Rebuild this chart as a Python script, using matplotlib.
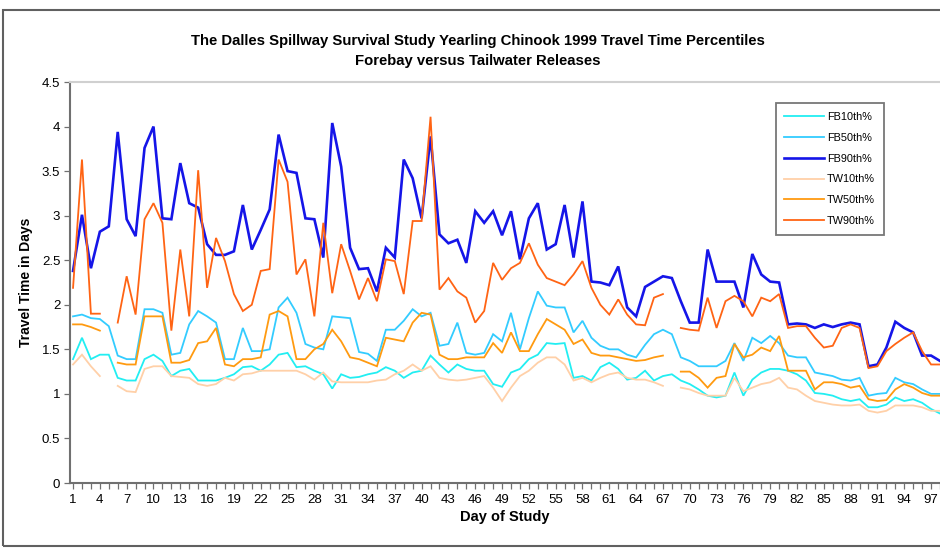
import numpy as np
import matplotlib
matplotlib.use("Agg")
import matplotlib.pyplot as plt
from matplotlib.lines import Line2D
from matplotlib.patches import Rectangle

nan = np.nan
days = np.arange(1, 99)

fb10 = [1.39, 1.63, 1.39, 1.44, 1.44, 1.18, 1.15, 1.15, 1.39, 1.44, 1.37, 1.2, 1.26, 1.28, 1.15, 1.15, 1.15, 1.18, 1.22, 1.3,
        1.31, 1.26, 1.33, 1.44, 1.46, 1.3, 1.31, 1.26, 1.22, 1.06, 1.22, 1.18, 1.19, 1.22, 1.24, 1.3, 1.26, 1.18, 1.24, 1.26,
        1.43, 1.33, 1.24, 1.33, 1.28, 1.26, 1.26, 1.11, 1.08, 1.24, 1.28, 1.39, 1.44, 1.57, 1.56, 1.57, 1.18, 1.2, 1.15, 1.3,
        1.35, 1.28, 1.16, 1.18, 1.26, 1.15, 1.2, 1.22, 1.15, 1.11, 1.05, 0.98, 0.96, 0.98, 1.24, 0.98, 1.16, 1.24, 1.28, 1.28,
        1.26, 1.22, 1.15, 1.01, 1.0, 0.98, 0.94, 0.92, 0.94, 0.85, 0.85, 0.88, 0.96, 0.92, 0.94, 0.9, 0.83, 0.78]
fb50 = [1.87, 1.89, 1.85, 1.84, 1.76, 1.43, 1.39, 1.39, 1.95, 1.95, 1.91, 1.44, 1.46, 1.78, 1.93, 1.87, 1.8, 1.39, 1.39, 1.74,
        1.48, 1.48, 1.5, 1.97, 2.08, 1.91, 1.56, 1.52, 1.5, 1.87, 1.86, 1.85, 1.47, 1.45, 1.37, 1.72, 1.72, 1.82, 1.95, 1.87,
        1.91, 1.54, 1.56, 1.8, 1.46, 1.44, 1.46, 1.67, 1.59, 1.91, 1.5, 1.85, 2.15, 1.99, 1.97, 1.97, 1.69, 1.82, 1.63, 1.54,
        1.5, 1.5, 1.44, 1.41, 1.55, 1.67, 1.72, 1.67, 1.41, 1.37, 1.31, 1.31, 1.31, 1.37, 1.57, 1.37, 1.63, 1.57, 1.65, 1.57,
        1.43, 1.41, 1.41, 1.24, 1.22, 1.2, 1.16, 1.15, 1.18, 0.98, 1.0, 1.01, 1.18, 1.13, 1.11, 1.05, 1.0, 1.0]
fb90 = [2.38, 3.01, 2.41, 2.82, 2.88, 3.94, 2.96, 2.77, 3.76, 4.0, 2.97, 2.96, 3.59, 3.14, 3.09, 2.68, 2.56, 2.56, 2.6, 3.12,
        2.62, 2.84, 3.07, 3.91, 3.5, 3.48, 2.97, 2.96, 2.53, 4.04, 3.55, 2.64, 2.4, 2.41, 2.15, 2.64, 2.53, 3.63, 3.42, 2.97,
        3.89, 2.79, 2.69, 2.73, 2.47, 3.05, 2.92, 3.05, 2.78, 3.05, 2.51, 2.97, 3.14, 2.62, 2.68, 3.12, 2.53, 3.16, 2.26, 2.25,
        2.22, 2.43, 1.97, 1.87, 2.2, 2.26, 2.32, 2.3, 2.04, 1.8, 1.8, 2.62, 2.26, 2.26, 2.26, 1.97, 2.57, 2.34, 2.26, 2.25,
        1.78, 1.79, 1.78, 1.74, 1.78, 1.75, 1.78, 1.8, 1.78, 1.31, 1.33, 1.52, 1.81, 1.74, 1.69, 1.43, 1.43, 1.37]
tw10 = [1.33, 1.44, 1.31, 1.2, nan, 1.09, 1.03, 1.02, 1.28, 1.31, 1.31, 1.2, 1.19, 1.18, 1.11, 1.09, 1.11, 1.18, 1.15, 1.22,
        1.23, 1.26, 1.26, 1.26, 1.26, 1.26, 1.22, 1.16, 1.24, 1.14, 1.13, 1.13, 1.13, 1.13, 1.15, 1.16, 1.22, 1.26, 1.33, 1.26,
        1.31, 1.18, 1.16, 1.15, 1.16, 1.18, 1.2, 1.07, 0.92, 1.07, 1.2, 1.26, 1.35, 1.41, 1.41, 1.33, 1.15, 1.18, 1.13, 1.18,
        1.22, 1.24, 1.18, 1.16, 1.16, 1.13, 1.09, nan, 1.07, 1.05, 1.01, 0.98, 0.98, 0.98, 1.18, 1.03, 1.07, 1.11, 1.13, 1.18,
        1.07, 1.05, 0.98, 0.92, 0.9, 0.88, 0.87, 0.87, 0.88, 0.81, 0.79, 0.81, 0.87, 0.87, 0.87, 0.85, 0.81, 0.81]
tw50 = [1.78, 1.78, 1.75, 1.71, nan, 1.35, 1.33, 1.33, 1.87, 1.87, 1.87, 1.35, 1.35, 1.38, 1.57, 1.59, 1.74, 1.33, 1.31, 1.39,
        1.39, 1.41, 1.89, 1.93, 1.87, 1.39, 1.39, 1.5, 1.56, 1.72, 1.59, 1.41, 1.39, 1.35, 1.31, 1.63, 1.61, 1.59, 1.8, 1.91,
        1.89, 1.44, 1.39, 1.39, 1.41, 1.41, 1.41, 1.57, 1.46, 1.69, 1.48, 1.48, 1.67, 1.84, 1.78, 1.72, 1.56, 1.61, 1.46, 1.43,
        1.43, 1.41, 1.39, 1.37, 1.38, 1.41, 1.43, nan, 1.25, 1.25, 1.18, 1.07, 1.18, 1.2, 1.56, 1.41, 1.44, 1.52, 1.48, 1.65,
        1.26, 1.26, 1.26, 1.05, 1.13, 1.13, 1.11, 1.07, 1.09, 0.94, 0.92, 0.93, 1.05, 1.11, 1.07, 1.01, 0.98, 0.98]
tw90 = [2.19, 3.63, 1.9, 1.9, nan, 1.8, 2.32, 1.89, 2.96, 3.14, 2.92, 1.71, 2.62, 1.87, 3.51, 2.19, 2.75, 2.49, 2.12, 1.93,
        2.0, 2.38, 2.4, 3.63, 3.38, 2.34, 2.51, 1.87, 2.92, 2.13, 2.68, 2.38, 2.06, 2.3, 2.04, 2.51, 2.49, 2.12, 2.94, 2.94,
        4.11, 2.17, 2.3, 2.15, 2.08, 1.8, 1.93, 2.47, 2.28, 2.41, 2.47, 2.69, 2.45, 2.3, 2.26, 2.22, 2.34, 2.49, 2.19, 2.0,
        1.89, 2.06, 1.89, 1.78, 1.77, 2.08, 2.12, nan, 1.74, 1.72, 1.71, 2.08, 1.74, 2.04, 2.1, 2.04, 1.87, 2.08, 2.04, 2.12,
        1.74, 1.76, 1.76, 1.63, 1.52, 1.54, 1.74, 1.78, 1.74, 1.29, 1.31, 1.48, 1.56, 1.63, 1.69, 1.48, 1.33, 1.33]

series = [
    ("FB10th%", fb10, "#22EEF2", 1.3),
    ("FB50th%", fb50, "#33CCFF", 1.3),
    ("FB90th%", fb90, "#1515E8", 1.9),
    ("TW10th%", tw10, "#FFD0A8", 1.3),
    ("TW50th%", tw50, "#FF9A10", 1.3),
    ("TW90th%", tw90, "#FF6414", 1.3),
]

plt.rcParams['font.family'] = ['Liberation Sans', 'DejaVu Sans']

fig = plt.figure(figsize=(9.4, 5.48), dpi=100)
ax = fig.add_axes([70 / 940, 65 / 548, 870 / 940, 401 / 548])

for name, vals, col, lw in series:
    ax.plot(days, vals, color=col, lw=lw, label=name, solid_joinstyle='miter')

ax.set_xlim(0.66, 98.0)
ax.set_ylim(0, 4.5)
ax.set_yticks(np.arange(0, 4.51, 0.5))
ax.set_yticklabels(['0', '0.5', '1', '1.5', '2', '2.5', '3', '3.5', '4', '4.5'])
ax.set_xticks(days)
ax.set_xticklabels([str(d) if (d - 1) % 3 == 0 else '' for d in days])
ax.tick_params(axis='both', labelsize=9.5, color='#707070', length=4, width=0.9, pad=3)
ax.tick_params(axis='x', pad=4)

for s in ['left', 'bottom']:
    ax.spines[s].set_color('#707070')
    ax.spines[s].set_linewidth(1.5)
ax.spines['top'].set_color('#d0d0d0')
ax.spines['top'].set_linewidth(1.5)
ax.spines['right'].set_visible(False)

ax.set_xlabel('Day of Study', fontsize=10.5, fontweight='bold', labelpad=3)
ax.set_ylabel('Travel Time in Days', fontsize=10, fontweight='bold', labelpad=6)

fig.text(0.508, 0.925, 'The Dalles Spillway Survival Study Yearling Chinook 1999 Travel Time Percentiles',
         ha='center', va='center', fontsize=10.7, fontweight='bold')
fig.text(0.508, 0.888, 'Forebay versus Tailwater Releases',
         ha='center', va='center', fontsize=10.7, fontweight='bold')

handles = [Line2D([0], [0], color=c, lw=lw) for n, v, c, lw in series]
leg = ax.legend(handles, [s[0] for s in series], loc='upper left', bbox_to_anchor=(0.811, 0.947),
                fontsize=7.8, frameon=True, fancybox=False, handlelength=3.7, handletextpad=0.25,
                labelspacing=1.0, borderpad=0.8, borderaxespad=0)
leg.get_frame().set_edgecolor('#555555')
leg.get_frame().set_linewidth(1.3)

# outer chart frame
fig.patches.append(Rectangle((3 / 940, 2 / 548), 1.1, 536 / 548, transform=fig.transFigure,
                             fill=False, edgecolor='#606060', lw=1.5))

fig.savefig('out.png', dpi=100)
